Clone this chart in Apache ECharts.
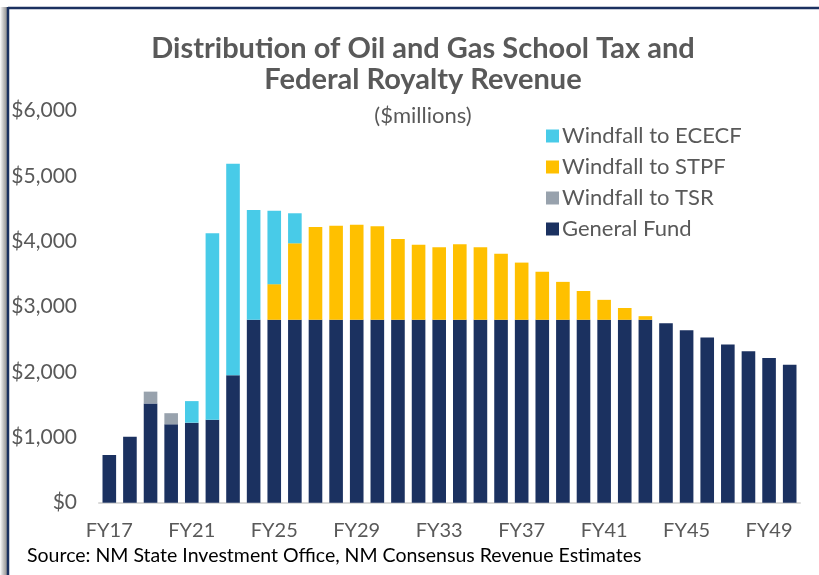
<!DOCTYPE html>
<html>
<head>
<meta charset="utf-8">
<script src="https://cdn.jsdelivr.net/npm/echarts@6/dist/echarts.min.js"></script>
<style>
  html, body { margin: 0; padding: 0; background: #fff; }
  #chart { width: 819px; height: 575px; }
</style>
</head>
<body>
<div id="chart"></div>
<script>
// fiscal years FY17..FY50
const years = [];
for (let y = 17; y <= 50; y++) years.push("FY" + y);

// $millions
const generalFund = [
  730, 1010, 1520, 1200, 1225, 1270, 1950,
  2800, 2800, 2800, 2800, 2800, 2800, 2800, 2800, 2800, 2800,
  2800, 2800, 2800, 2800, 2800, 2800, 2800, 2800, 2800, 2800,
  2747, 2640, 2527, 2420, 2318, 2216, 2113
];
const windfallTSR = [
  0, 0, 180, 170, 0, 0, 0,
  0, 0, 0, 0, 0, 0, 0, 0, 0, 0,
  0, 0, 0, 0, 0, 0, 0, 0, 0, 0,
  0, 0, 0, 0, 0, 0, 0
];
const windfallSTPF = [
  0, 0, 0, 0, 0, 0, 0,
  0, 545, 1170, 1420, 1440, 1455, 1430, 1235, 1150, 1110,
  1155, 1110, 1010, 875, 735, 580, 440, 305, 180, 55,
  0, 0, 0, 0, 0, 0, 0
];
const windfallECECF = [
  0, 0, 0, 0, 330, 2855, 3237,
  1680, 1125, 460, 0, 0, 0, 0, 0, 0, 0,
  0, 0, 0, 0, 0, 0, 0, 0, 0, 0,
  0, 0, 0, 0, 0, 0, 0
];
const yTicks = { min: 0, max: 6000, step: 1000 };

const FONT = "Lato, 'Open Sans', sans-serif";
const GREY = "#595959";

const chart = echarts.init(document.getElementById("chart"), null, { renderer: "canvas" });

const mkSeries = (name, data, color) => ({
  name,
  type: "bar",
  stack: "total",
  data,
  barCategoryGap: "34%",
  itemStyle: { color },
  emphasis: { disabled: true },
});

chart.setOption({
  animation: false,
  textStyle: { fontFamily: FONT },
  title: [
    {
      text: "Distribution of Oil and Gas School Tax and\nFederal Royalty Revenue",
      left: 418,
      top: 28,
      textAlign: "center",
      textStyle: { fontFamily: FONT, fontSize: 29, fontWeight: "bold", color: GREY, lineHeight: 31 },
    },
    {
      text: "($millions)",
      left: 418,
      top: 100,
      textAlign: "center",
      textStyle: { fontFamily: FONT, fontSize: 22, fontWeight: "normal", color: GREY },
    },
  ],
  legend: {
    orient: "vertical",
    left: 541,
    top: 120,
    itemWidth: 13,
    itemHeight: 13,
    itemGap: 9,
    icon: "rect",
    data: ["Windfall to ECECF", "Windfall to STPF", "Windfall to TSR", "General Fund"],
    textStyle: { fontFamily: FONT, fontSize: 22, color: GREY, padding: [0, 0, 0, -2] },
  },
  grid: { left: 99, right: 19, top: 110.7, bottom: 72.3, containLabel: false },
  xAxis: {
    type: "category",
    data: years,
    axisLine: { lineStyle: { color: "#D9D9D9", width: 2 } },
    axisTick: { show: false },
    axisLabel: { interval: 3, color: GREY, fontSize: 20, margin: 18, fontFamily: FONT },
  },
  yAxis: {
    type: "value",
    min: yTicks.min,
    max: yTicks.max,
    interval: yTicks.step,
    axisLine: { show: false },
    axisTick: { show: false },
    splitLine: { show: false },
    axisLabel: {
      color: GREY,
      fontSize: 21,
      margin: 22,
      fontFamily: FONT,
      formatter: (v) => "$" + v.toLocaleString("en-US"),
    },
  },
  series: [
    mkSeries("General Fund", generalFund, "#1B3160"),
    mkSeries("Windfall to TSR", windfallTSR, "#98A2AD"),
    mkSeries("Windfall to STPF", windfallSTPF, "#FFC000"),
    mkSeries("Windfall to ECECF", windfallECECF, "#48CBE8"),
  ],
  graphic: [
    // left shadow + frame
    {
      type: "rect",
      shape: { x: 0, y: 7, width: 7, height: 568 },
      style: {
        fill: new echarts.graphic.LinearGradient(0, 0, 1, 0, [
          { offset: 0, color: "rgba(255,255,255,1)" },
          { offset: 1, color: "rgba(120,120,120,0.8)" },
        ]),
      },
      silent: true,
    },
    {
      type: "line",
      shape: { x1: 8, y1: 8, x2: 819, y2: 8 },
      style: { stroke: "#1B3160", lineWidth: 2.5 },
      silent: true,
    },
    {
      type: "line",
      shape: { x1: 8, y1: 7, x2: 8, y2: 575 },
      style: { stroke: "#1B3160", lineWidth: 2.5 },
      silent: true,
    },
    {
      type: "text",
      left: 27,
      top: 546,
      style: {
        text: "Source: NM State Investment Office, NM Consensus Revenue Estimates",
        fill: "#000",
        font: "19.5px " + FONT,
      },
    },
  ],
});
</script>
</body>
</html>
